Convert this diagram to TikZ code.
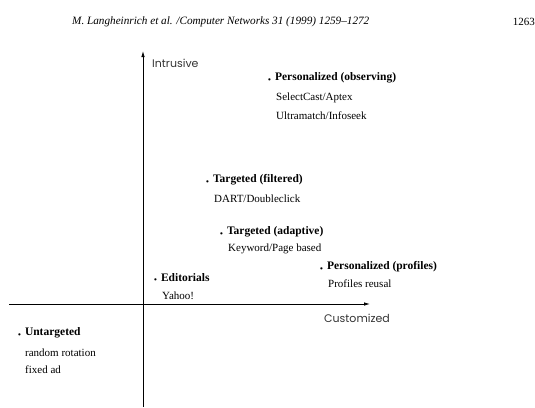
\documentclass[tikz,border=0pt]{standalone}
\usepackage{fontspec}
\usepackage{graphicx}
\setmainfont{Liberation Serif}
\newfontfamily\axisfont{Poppins}
\usetikzlibrary{arrows.meta}
\newcommand{\mybul}{\raisebox{-0.3ex}{\scalebox{0.7}{\textbullet}}\hspace{0.35em}}
\begin{document}
\begin{tikzpicture}[x=1pt,y=-1pt,
  ttl/.style={anchor=west,inner sep=0pt,font=\bfseries\fontsize{11.5}{13}\selectfont},
  sub/.style={anchor=west,inner sep=0pt,font=\fontsize{11}{13}\selectfont},
  axl/.style={anchor=west,inner sep=0pt,font=\axisfont\fontsize{11}{13}\selectfont,text=black!80},
  hdr/.style={anchor=west,inner sep=0pt,font=\itshape\fontsize{11.2}{13}\selectfont},
  axis/.style={line width=0.8pt,-{Latex[length=6pt,width=3.5pt]}}]
\useasboundingbox (0,0) rectangle (535,407);
% header
\node[hdr] (hd) at (72,22) {M. Langheinrich et al. /Computer Networks 31 (1999) 1259--1272};
\node[anchor=east,inner sep=0pt,font=\fontsize{11}{13}\selectfont] (pg) at (535,22) {1263};
% axes
\coordinate (vb) at (143,407);
\coordinate (vt) at (143,51);
\coordinate (hl) at (9,304);
\coordinate (hr) at (370,304);
\draw[axis] (vb) -- (vt);
\draw[axis] (hl) -- (hr);
\node[axl] (intr) at (152,63) {Intrusive};
\node[axl] (cust) at (324,318) {Customized};
% items
\node[ttl] (po) at (268,78) {\mybul Personalized (observing)};
\node[sub] (po1) at (276,98) {SelectCast/Aptex};
\node[sub] (po2) at (276,116) {Ultramatch/Infoseek};
\node[ttl] (tf) at (206,180) {\mybul Targeted (filtered)};
\node[sub] (tf1) at (214,199) {DART/Doubleclick};
\node[ttl] (ta) at (220,232) {\mybul Targeted (adaptive)};
\node[sub] (ta1) at (228,249) {Keyword/Page based};
\node[ttl] (pp) at (320,267) {\mybul Personalized (profiles)};
\node[sub] (pp1) at (328,284) {Profiles reusal};
\node[ttl] (ed) at (154,278) {\mybul Editorials};
\node[sub] (ed1) at (162,296) {Yahoo!};
\node[ttl] (un) at (18,333) {\mybul Untargeted};
\node[sub] (un1) at (25,353) {random rotation};
\node[sub] (un2) at (25,370) {fixed ad};
\end{tikzpicture}
\end{document}
